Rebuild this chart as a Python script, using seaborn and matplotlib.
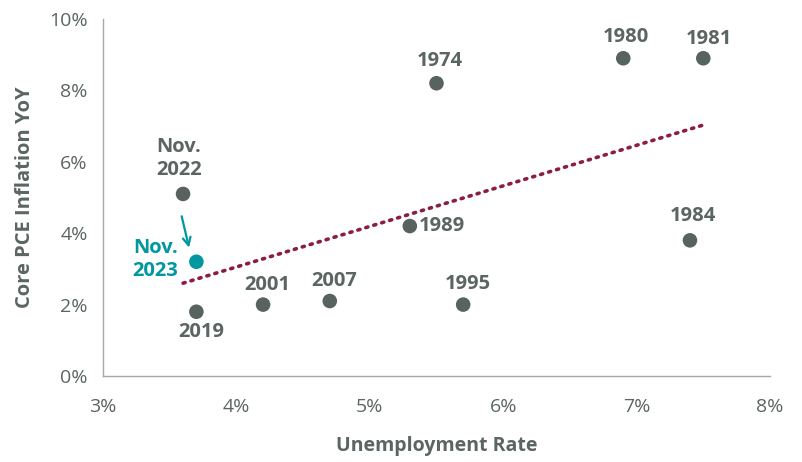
import matplotlib
matplotlib.use("Agg")
import matplotlib.pyplot as plt
import seaborn as sns
import pandas as pd
from matplotlib.ticker import FuncFormatter

labels = ["Nov.\n2022", "2019", "2001", "2007", "1974", "1989", "1995", "1980", "1981", "1984"]
unemp = [3.6, 3.7, 4.2, 4.7, 5.5, 5.3, 5.7, 6.9, 7.5, 7.4]
infl = [5.1, 1.8, 2.0, 2.1, 8.2, 4.2, 2.0, 8.9, 8.9, 3.8]
cur_label = "Nov.\n2023"
cur_unemp = [3.7]
cur_infl = [3.2]
trend_x = [3.6, 7.5]
trend_y = [2.6, 7.03]
x_ticks = [3, 4, 5, 6, 7, 8]
y_ticks = [0, 2, 4, 6, 8, 10]

sns.set_style("white")
plt.rcParams["font.family"] = ["Open Sans", "DejaVu Sans"]

GRAY = "#58625F"
TXT = "#5B6562"
TEAL = "#0097A0"
MAROON = "#8C1C47"
AX = "#A8A8A8"

fig = plt.figure(figsize=(8.03, 4.62), dpi=100)
ax = fig.add_axes([103/803, 1-376/462, (770-103)/803, (376-19)/462])

df = pd.DataFrame({"u": unemp, "i": infl, "lab": labels})
sns.lineplot(x=trend_x, y=trend_y, ax=ax, color=MAROON, lw=2.6,
             linestyle=(0, (0.6, 1.7)), dash_capstyle="round", zorder=2)
sns.scatterplot(data=df, x="u", y="i", ax=ax, color=GRAY, s=110, edgecolor="none", zorder=3)
sns.scatterplot(x=cur_unemp, y=cur_infl, ax=ax, color=TEAL, s=110, edgecolor="none", zorder=3)

LFS = 14.5
offsets = {
    "Nov.\n2022": (-4, 35, "center"),
    "2019": (5, -20, "center"),
    "2001": (4, 20, "center"),
    "2007": (4, 20, "center"),
    "1974": (3, 22, "center"),
    "1989": (9, 0, "left"),
    "1995": (5, 21, "center"),
    "1980": (3, 21, "center"),
    "1981": (6, 19, "center"),
    "1984": (3, 24, "center"),
}
for lab, x, y in zip(labels, unemp, infl):
    dx, dy, ha = offsets[lab]
    ax.annotate(lab, (x, y), xytext=(dx, dy), textcoords="offset pixels",
                ha=ha, va="center", fontsize=LFS, fontweight="bold", color=TXT,
                linespacing=1.2)

ax.annotate(cur_label, (cur_unemp[0], cur_infl[0]), xytext=(-18, 2), textcoords="offset pixels",
            ha="right", va="center", fontsize=LFS, fontweight="bold", color=TEAL, linespacing=1.2)
# arrow from Nov 2022 toward Nov 2023
ax.annotate("", xy=(3.65, 3.52), xytext=(3.585, 4.55),
            arrowprops=dict(arrowstyle="->", color=TEAL, lw=1.6, mutation_scale=14))

ax.set_xlim(3, 8)
ax.set_ylim(0, 10)
ax.set_xticks(x_ticks)
ax.set_yticks(y_ticks)
ax.xaxis.set_major_formatter(FuncFormatter(lambda v, p: f"{v:.0f}%"))
ax.yaxis.set_major_formatter(FuncFormatter(lambda v, p: f"{v:.0f}%"))
ax.tick_params(axis="both", colors=AX, labelcolor=TXT, labelsize=14, length=6, width=1, direction="out")
ax.tick_params(axis="x", pad=10)
ax.tick_params(axis="y", pad=5)
for s in ["top", "right"]:
    ax.spines[s].set_visible(False)
for s in ["left", "bottom"]:
    ax.spines[s].set_color(AX)
    ax.spines[s].set_linewidth(1)

ax.set_xlabel("Unemployment Rate", fontsize=14, fontweight="bold", color=TXT, labelpad=14)
ax.set_ylabel("Core PCE Inflation YoY", fontsize=14.5, fontweight="bold", color=TXT, labelpad=10)

fig.savefig("out.png", dpi=100)
